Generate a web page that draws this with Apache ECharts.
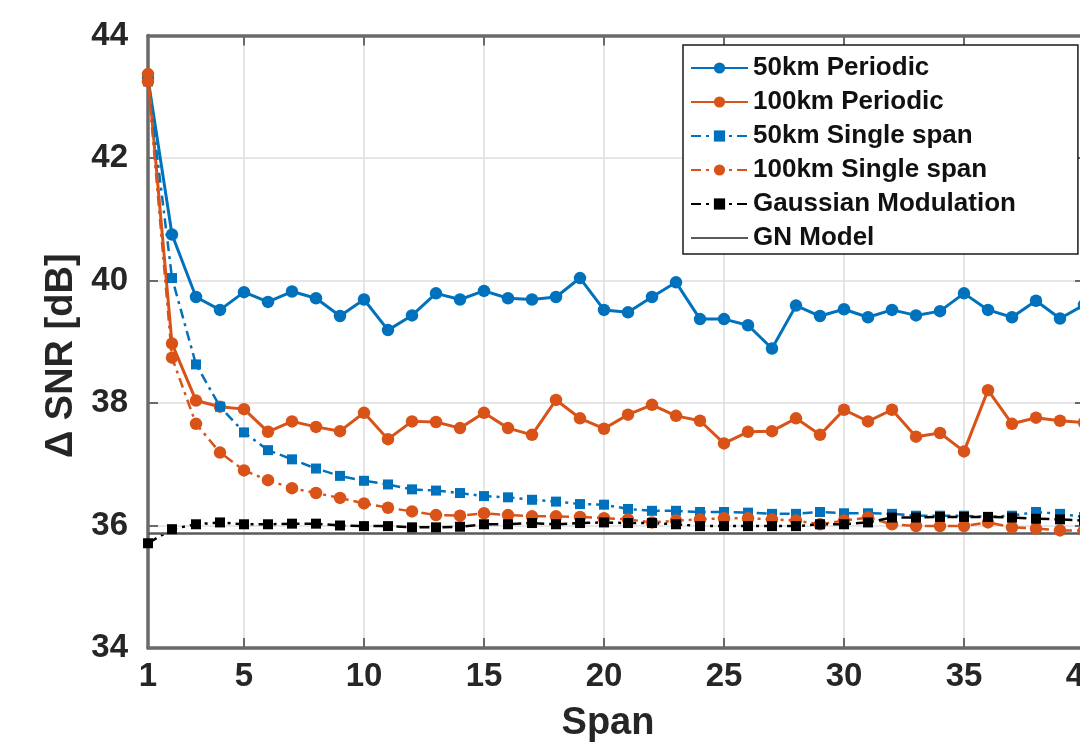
<!DOCTYPE html>
<html>
<head>
<meta charset="utf-8">
<script src="https://cdn.jsdelivr.net/npm/echarts@6/dist/echarts.min.js"></script>
<style>
  html, body { margin: 0; padding: 0; background: #fff; }
  #chart { width: 1080px; height: 750px; }
</style>
</head>
<body>
<div id="chart"></div>
<script>
const spans = [1, 2, 3, 4, 5, 6, 7, 8, 9, 10, 11, 12, 13, 14, 15, 16, 17, 18, 19, 20,
  21, 22, 23, 24, 25, 26, 27, 28, 29, 30, 31, 32, 33, 34, 35, 36, 37, 38, 39, 40];

const periodic50 = [43.30, 40.75, 39.73, 39.52, 39.81, 39.65, 39.82, 39.71, 39.42, 39.69,
  39.19, 39.43, 39.79, 39.69, 39.83, 39.71, 39.69, 39.73, 40.04, 39.52,
  39.48, 39.73, 39.97, 39.37, 39.37, 39.27, 38.89, 39.59, 39.42, 39.53,
  39.40, 39.52, 39.43, 39.50, 39.79, 39.52, 39.40, 39.67, 39.38, 39.60];

const periodic100 = [43.37, 38.97, 38.04, 37.94, 37.90, 37.53, 37.70, 37.61, 37.54, 37.84,
  37.41, 37.70, 37.69, 37.59, 37.84, 37.59, 37.48, 38.05, 37.75, 37.58,
  37.81, 37.97, 37.79, 37.71, 37.34, 37.53, 37.54, 37.75, 37.48, 37.89,
  37.70, 37.89, 37.45, 37.51, 37.21, 38.21, 37.66, 37.76, 37.71, 37.68];

const single50 = [43.25, 40.04, 38.63, 37.94, 37.52, 37.23, 37.08, 36.93, 36.81, 36.73,
  36.67, 36.59, 36.57, 36.53, 36.48, 36.46, 36.42, 36.39, 36.35, 36.34,
  36.27, 36.24, 36.24, 36.22, 36.22, 36.21, 36.19, 36.19, 36.22, 36.20,
  36.20, 36.19, 36.16, 36.16, 36.16, 36.14, 36.16, 36.22, 36.19, 36.14];

const single100 = [43.25, 38.74, 37.66, 37.19, 36.90, 36.74, 36.61, 36.53, 36.45, 36.36,
  36.29, 36.23, 36.17, 36.16, 36.20, 36.17, 36.15, 36.15, 36.14, 36.12,
  36.10, 36.05, 36.08, 36.10, 36.12, 36.12, 36.10, 36.08, 36.02, 36.08,
  36.13, 36.02, 35.99, 35.99, 35.99, 36.05, 35.97, 35.95, 35.92, 35.92];

const gaussian = [35.71, 35.94, 36.02, 36.05, 36.02, 36.02, 36.03, 36.03, 36.00, 35.99,
  35.99, 35.97, 35.97, 35.98, 36.02, 36.02, 36.04, 36.02, 36.04, 36.05,
  36.04, 36.04, 36.02, 35.99, 35.99, 35.99, 35.99, 35.99, 36.02, 36.02,
  36.05, 36.13, 36.13, 36.14, 36.14, 36.14, 36.13, 36.11, 36.10, 36.08];

const gnSpans = [1, 40];
const gnModel = [35.87, 35.87];

const xTickLabels = [1, 5, 10, 15, 20, 25, 30, 35, 40];
const seriesNames = ['50km Periodic', '100km Periodic', '50km Single span',
  '100km Single span', 'Gaussian Modulation', 'GN Model'];

const BLUE = '#0072BD';
const ORANGE = '#D95319';
const AXIS = '#6a6a6a';
const TEXT = '#262626';
const GRID = '#dedede';
const FONT = 'Liberation Sans, Arial, sans-serif';
const dashDot = [10, 5, 3, 5];

const pairs = (xs, ys) => xs.map((x, i) => [x, ys[i]]);

const chart = echarts.init(document.getElementById('chart'), null, { renderer: 'canvas' });

const axisLabelStyle = { color: TEXT, fontFamily: FONT, fontWeight: 'bold', fontSize: 33 };

// the plot box runs a little past the right edge of the picture, as in the reference
const option = {
  backgroundColor: '#fff',
  animation: false,
  grid: { left: 148, right: -4, top: 35.5, bottom: 102, outerBoundsMode: 'none', containLabel: false },
  legend: {
    orient: 'vertical',
    left: 683,
    top: 45,
    padding: [10, 62, 3, 7],
    backgroundColor: '#fff',
    borderColor: '#1a1a1a',
    borderWidth: 1.5,
    borderRadius: 0,
    itemWidth: 57,
    itemHeight: 14,
    itemGap: 8,
    data: seriesNames.map((name) => (name === 'GN Model'
      ? { name, itemStyle: { opacity: 0 } }
      : { name })),
    textStyle: { color: '#111', fontFamily: FONT, fontWeight: 'bold', fontSize: 26, lineHeight: 24 },
  },
  xAxis: [
    {
      type: 'value',
      min: 1,
      max: 40,
      name: 'Span',
      nameLocation: 'middle',
      nameGap: 57,
      nameTextStyle: { color: TEXT, fontFamily: FONT, fontWeight: 'bold', fontSize: 38, padding: [0, 16, 0, 0] },
      axisLine: { lineStyle: { color: AXIS, width: 3.5 } },
      axisTick: { inside: true, length: 10, customValues: xTickLabels, lineStyle: { color: AXIS, width: 2 } },
      axisLabel: { customValues: xTickLabels, margin: 12, ...axisLabelStyle },
      splitLine: { show: true, customValues: xTickLabels, lineStyle: { color: GRID, width: 1.5 } },
    },
    {
      type: 'value',
      position: 'top',
      min: 1,
      max: 40,
      axisLine: { lineStyle: { color: AXIS, width: 3.5 } },
      axisTick: { inside: true, length: 10, customValues: xTickLabels, lineStyle: { color: AXIS, width: 2 } },
      axisLabel: { show: false },
      splitLine: { show: false },
    },
  ],
  yAxis: [
    {
      type: 'value',
      min: 34,
      max: 44,
      interval: 2,
      name: 'Δ SNR [dB]',
      nameLocation: 'middle',
      nameGap: 66,
      nameRotate: 90,
      nameTextStyle: { color: TEXT, fontFamily: FONT, fontWeight: 'bold', fontSize: 38, padding: [0, 28, 0, 0] },
      axisLine: { lineStyle: { color: AXIS, width: 3.5 } },
      axisTick: { inside: true, length: 10, lineStyle: { color: AXIS, width: 2 } },
      axisLabel: { margin: 20, ...axisLabelStyle },
      splitLine: { show: true, lineStyle: { color: GRID, width: 1.5 } },
    },
    {
      type: 'value',
      position: 'right',
      min: 34,
      max: 44,
      interval: 2,
      axisLine: { show: true, lineStyle: { color: AXIS, width: 3.5 } },
      axisTick: { show: true, inside: true, length: 9, lineStyle: { color: AXIS, width: 2 } },
      axisLabel: { show: false },
      splitLine: { show: false },
    },
  ],
  series: [
    {
      name: seriesNames[0],
      type: 'line',
      data: pairs(spans, periodic50),
      symbol: 'circle',
      symbolSize: 12.5,
      lineStyle: { color: BLUE, width: 3 },
      itemStyle: { color: BLUE },
    },
    {
      name: seriesNames[1],
      type: 'line',
      data: pairs(spans, periodic100),
      symbol: 'circle',
      symbolSize: 12.5,
      lineStyle: { color: ORANGE, width: 3 },
      itemStyle: { color: ORANGE },
    },
    {
      name: seriesNames[2],
      type: 'line',
      data: pairs(spans, single50),
      symbol: 'rect',
      symbolSize: 10,
      lineStyle: { color: BLUE, width: 2.5, type: dashDot },
      itemStyle: { color: BLUE },
    },
    {
      name: seriesNames[3],
      type: 'line',
      data: pairs(spans, single100),
      symbol: 'circle',
      symbolSize: 12.5,
      lineStyle: { color: ORANGE, width: 2.5, type: dashDot },
      itemStyle: { color: ORANGE },
    },
    {
      name: seriesNames[4],
      type: 'line',
      data: pairs(spans, gaussian),
      symbol: 'rect',
      symbolSize: 10,
      lineStyle: { color: '#000', width: 2.5, type: dashDot },
      itemStyle: { color: '#000' },
    },
    {
      name: seriesNames[5],
      type: 'line',
      data: pairs(gnSpans, gnModel),
      symbol: 'none',
      lineStyle: { color: '#5a5a5a', width: 2.5 },
      itemStyle: { color: '#5a5a5a' },
    },
  ],
};

chart.setOption(option);
</script>
</body>
</html>
